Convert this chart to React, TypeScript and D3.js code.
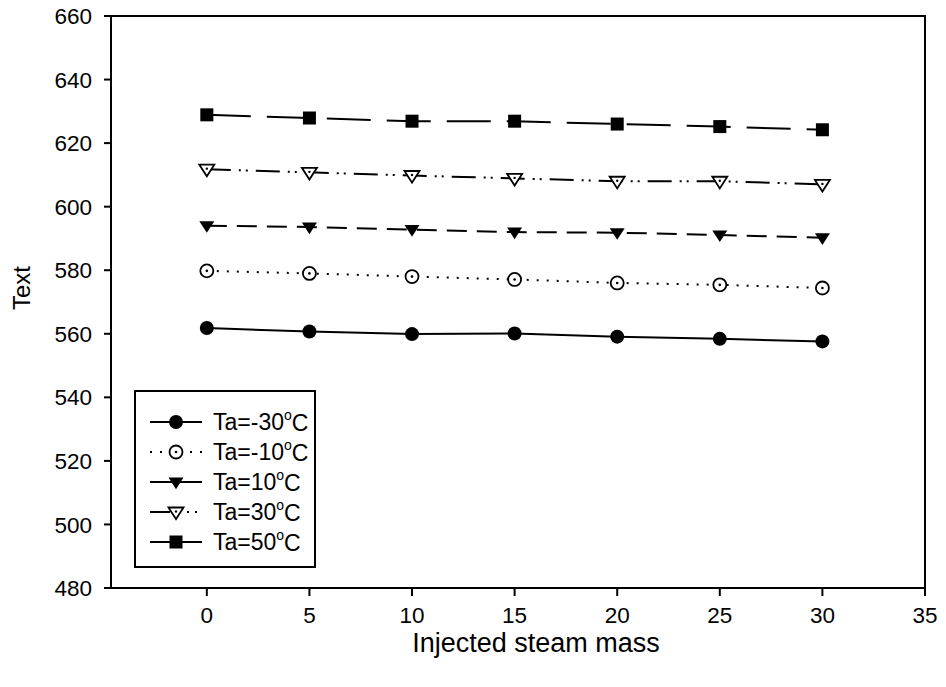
import React from "react";
import * as d3 from "d3";

const steamMass = [0, 5, 10, 15, 20, 25, 30];
const taMinus30 = [561.8, 560.7, 559.9, 560.1, 559.1, 558.4, 557.6];
const taMinus10 = [579.8, 579.0, 578.0, 577.1, 576.0, 575.4, 574.4];
const ta10 = [594.0, 593.6, 592.8, 592.0, 591.8, 591.1, 590.2];
const ta30 = [611.8, 610.8, 609.8, 608.9, 608.0, 608.0, 607.0];
const ta50 = [628.9, 627.9, 626.9, 626.9, 626.0, 625.2, 624.2];
const seriesNames = ["-30", "-10", "10", "30", "50"];
const xTicks = [0, 5, 10, 15, 20, 25, 30, 35];
const yTicks = [480, 500, 520, 540, 560, 580, 600, 620, 640, 660];

type Style = { marker: string; dash: string; legendDash: string };
const styles: Style[] = [
  { marker: "circleFilled", dash: "none", legendDash: "none" },
  { marker: "circleOpen", dash: "2,8", legendDash: "2,8" },
  { marker: "triFilled", dash: "20,10", legendDash: "none" },
  { marker: "triOpen", dash: "24,8,2,5,2,8", legendDash: "20,17,2,6,2,30" },
  { marker: "square", dash: "44,16", legendDash: "none" },
];
const seriesValues = [taMinus30, taMinus10, ta10, ta30, ta50];

const W = 946, H = 687;
const left = 111, right = 925, top = 16, bottom = 588;
const FONT = "'Liberation Sans', Arial, sans-serif";

function Marker({ kind, x, y }: { kind: string; x: number; y: number }) {
  if (kind === "circleFilled") return <circle cx={x} cy={y} r={7} fill="#000" />;
  if (kind === "circleOpen")
    return (
      <g>
        <circle cx={x} cy={y} r={6.5} fill="#fff" stroke="#000" strokeWidth={1.8} />
        <circle cx={x} cy={y} r={1.3} fill="#000" />
      </g>
    );
  if (kind === "triFilled" || kind === "triOpen") {
    const s = 7.5;
    const p = `${x - s},${y - s * 0.6} ${x + s},${y - s * 0.6} ${x},${y + s * 0.95}`;
    if (kind === "triFilled") return <polygon points={p} fill="#000" />;
    return (
      <g>
        <polygon points={p} fill="#fff" stroke="#000" strokeWidth={1.8} />
        <circle cx={x} cy={y - 0.5} r={1.2} fill="#000" />
      </g>
    );
  }
  return <rect x={x - 6.5} y={y - 6.5} width={13} height={13} fill="#000" />;
}

export default function App() {
  const xs = d3.scaleLinear().domain([-4.67, 35]).range([left, right]);
  const ys = d3.scaleLinear().domain([480, 660]).range([bottom, top]);
  const line = d3
    .line<number>()
    .x((_, i) => xs(steamMass[i]))
    .y((d) => ys(d));

  const legendX = 135, legendY = 391, legendW = 180, legendH = 176;

  return (
    <svg width={W} height={H} style={{ position: "absolute", left: 0, top: 0, background: "#fff" }} fontFamily={FONT}>
      <rect x={0} y={0} width={W} height={H} fill="#fff" />
      <rect x={left} y={top} width={right - left} height={bottom - top} fill="none" stroke="#000" strokeWidth={2} />
      {yTicks.map((t) => (
        <g key={"y" + t}>
          <line x1={left - 7} x2={left} y1={ys(t)} y2={ys(t)} stroke="#000" strokeWidth={2} />
          <text x={left - 19} y={ys(t)} dy="0.36em" textAnchor="end" fontSize={22.5}>
            {t}
          </text>
        </g>
      ))}
      {xTicks.map((t) => (
        <g key={"x" + t}>
          <line x1={xs(t)} x2={xs(t)} y1={bottom} y2={bottom + 8} stroke="#000" strokeWidth={2} />
          <text x={xs(t)} y={623} textAnchor="middle" fontSize={22.5}>
            {t}
          </text>
        </g>
      ))}
      <text x={536} y={652} textAnchor="middle" fontSize={27}>
        Injected steam mass
      </text>
      <text transform={`translate(30,288) rotate(-90)`} textAnchor="middle" fontSize={24}>
        Text
      </text>
      {seriesValues.map((vals, si) => (
        <g key={"s" + si}>
          <path d={line(vals) || ""} fill="none" stroke="#000" strokeWidth={2} strokeDasharray={styles[si].dash} />
          {vals.map((v, i) => (
            <Marker key={i} kind={styles[si].marker} x={xs(steamMass[i])} y={ys(v)} />
          ))}
        </g>
      ))}
      <rect x={legendX} y={legendY} width={legendW} height={legendH} fill="#fff" stroke="#000" strokeWidth={2} />
      {seriesNames.map((n, i) => {
        const cy = 422 + i * 30;
        return (
          <g key={"l" + i}>
            <line x1={150} x2={202} y1={cy} y2={cy} stroke="#000" strokeWidth={2} strokeDasharray={styles[i].legendDash} />
            <Marker kind={styles[i].marker} x={176} y={cy} />
            <text x={213} y={cy} dy="0.36em" fontSize={23}>
              {`Ta=${n}`}
              <tspan fontSize={14} dy="-0.75em">o</tspan>
              <tspan dy="0.5em">C</tspan>
            </text>
          </g>
        );
      })}
    </svg>
  );
}
